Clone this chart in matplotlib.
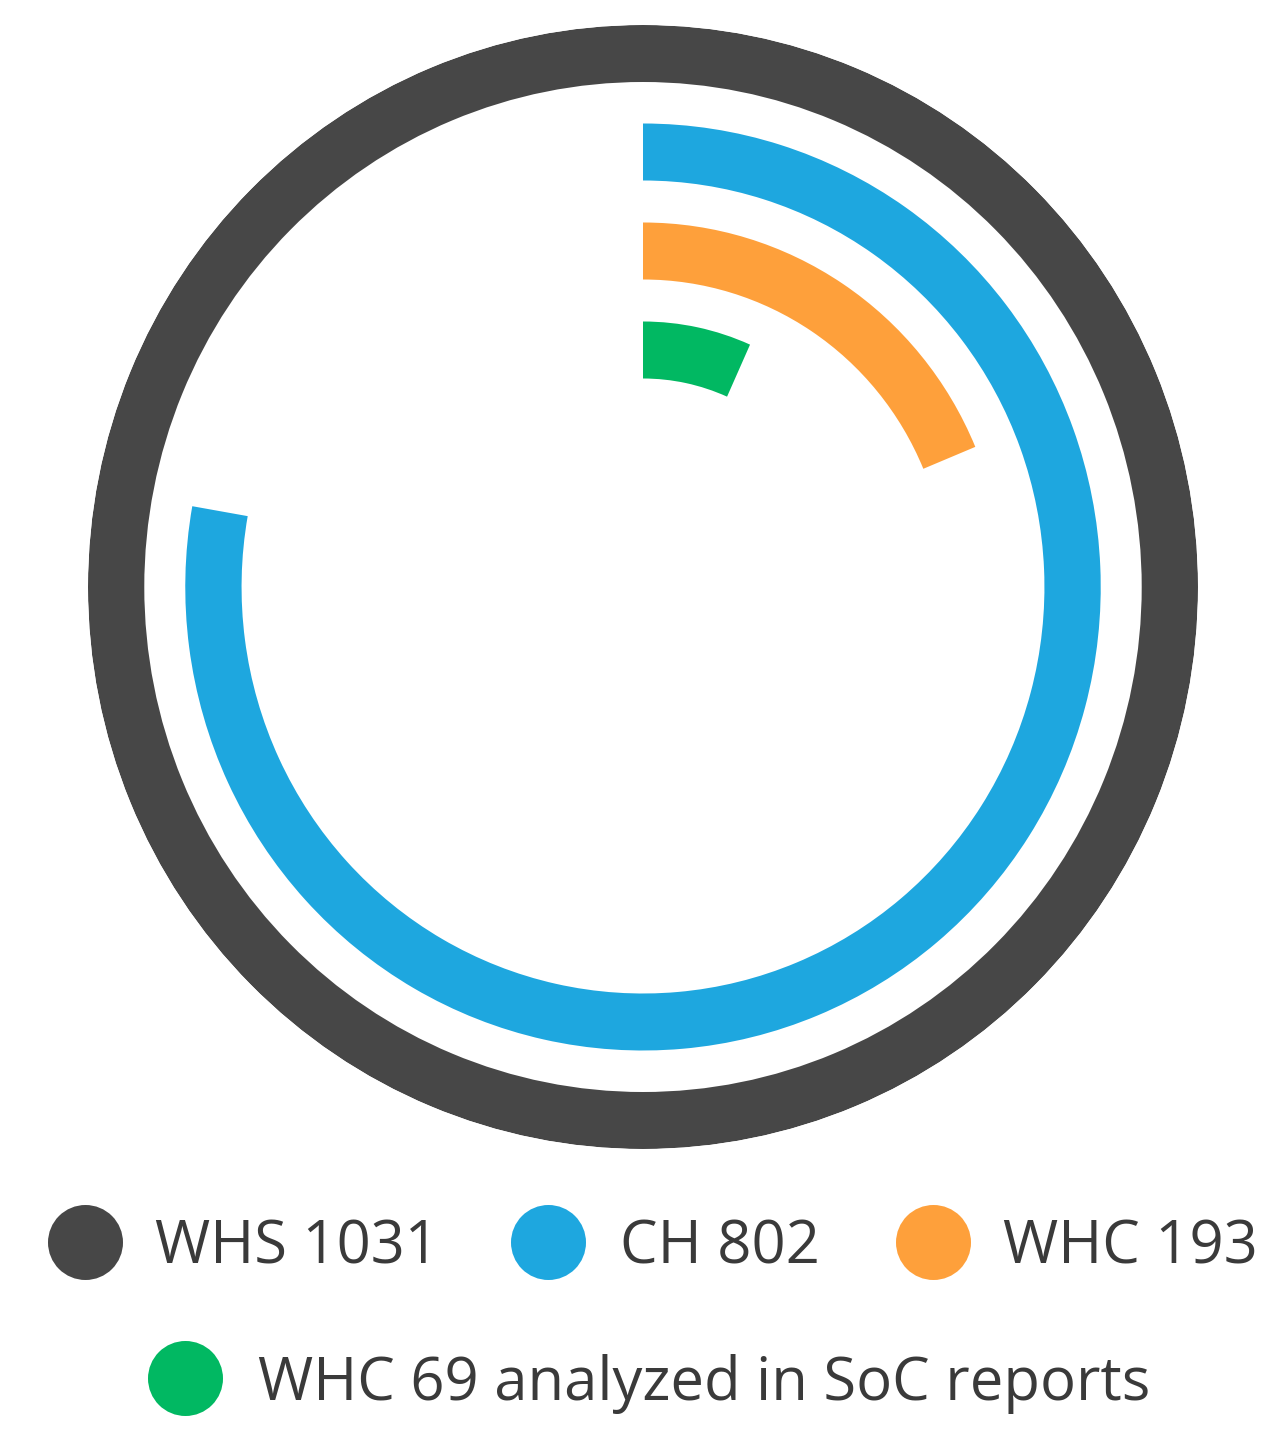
import numpy as np
import matplotlib
matplotlib.use("Agg")
import matplotlib.pyplot as plt

# --- DATA ---
series = ["WHS", "CH", "WHC", "WHC analyzed"]
values = [1031, 802, 193, 69]
legend_labels = ["WHS 1031", "CH 802", "WHC 193", "WHC 69 analyzed in SoC reports"]
colors = ["#474747", "#1ea7df", "#fea03b", "#01b862"]

# --- FIGURE ---
W, H = 1280, 1451
fig = plt.figure(figsize=(W / 100, H / 100), dpi=100)
fig.patch.set_facecolor("white")

# polar axes placed in pixels: center (643, 587), radius ~558
cx, cy, rx, ry = 643, 587, 555, 562
ax = fig.add_axes([(cx - rx) / W, (H - cy - ry) / H, 2 * rx / W, 2 * ry / H],
                  projection="polar")
ax.set_aspect("auto")
ax.set_theta_zero_location("N")
ax.set_theta_direction(-1)

total = values[0]
ring_outer = [562, 463.5, 364.5, 265.5]
thickness = 57
for val, r_out, col in zip(values, ring_outer, colors):
    span = val / total * 2 * np.pi
    ax.bar(0, thickness, width=span, bottom=r_out - thickness,
           align="edge", color=col, edgecolor="none", linewidth=0)

ax.set_ylim(0, 562)
ax.set_axis_off()

# --- LEGEND ---
lax = fig.add_axes([0, 0, 1, 1])
lax.set_xlim(0, W)
lax.set_ylim(H, 0)
lax.set_axis_off()

marker_x = [85, 548, 933, 185]
marker_y = [1242, 1242, 1242, 1378]
text_x = [155, 620, 1003, 258]
for mx, my, tx, lab, col in zip(marker_x, marker_y, text_x, legend_labels, colors):
    lax.plot(mx, my, "o", markersize=54, color=col, markeredgewidth=0)
    lax.text(tx, my + 22, lab, fontsize=43, color="#3a3a3a", fontweight="medium",
             family=["Open Sans", "DejaVu Sans"], ha="left", va="baseline")

fig.savefig("out.png", dpi=100, facecolor="white")
